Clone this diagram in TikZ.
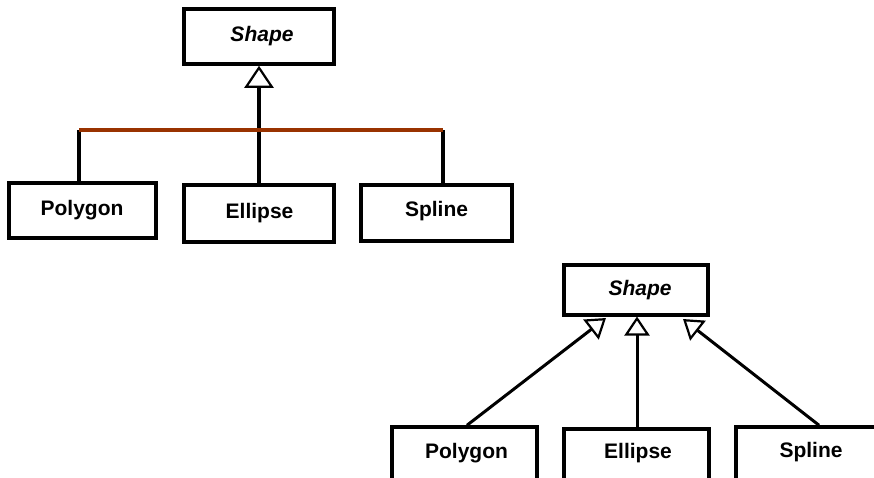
\documentclass[tikz,border=0pt]{standalone}
\usepackage{fontspec}
\setmainfont{Liberation Sans}
\usetikzlibrary{arrows.meta}
\definecolor{barbrown}{HTML}{993300}
\tikzset{
  cls/.style={draw=black, line width=3.5pt, inner sep=0pt, fill=white},
  lbl/.style={font=\fontsize{21}{25}\selectfont\bfseries, inner sep=0pt, anchor=base},
  ilbl/.style={font=\fontsize{21}{25}\selectfont\bfseries\itshape, inner sep=0pt, anchor=base},
  gen/.style={-{Triangle[open, length=22pt, width=29pt, line width=2.2pt]}},
  genb/.style={-{Triangle[open, length=19pt, width=25pt, line width=2.2pt]}, line width=3pt},
}
\begin{document}
\begin{tikzpicture}[x=1pt, y=-1pt]
\useasboundingbox (0,0) rectangle (874,477);
\clip (0,0) rectangle (874,477);
% ---------- top diagram ----------
\node[cls, minimum width=150pt, minimum height=55pt] (S1) at (259,36.5) {};
\node[ilbl] at (262,41) {Shape};
\node[cls, minimum width=147pt, minimum height=55pt] (P1) at (82.5,210.5) {};
\node[lbl] at (82,215) {Polygon};
\node[cls, minimum width=150pt, minimum height=57pt] (E1) at (259,213.5) {};
\node[lbl] at (259.5,218) {Ellipse};
\node[cls, minimum width=151pt, minimum height=56pt] (L1) at (436.5,213) {};
\node[lbl] at (436.5,216.5) {Spline};
\coordinate (barL) at (79,130);
\coordinate (barR) at (443,130);
\draw[line width=3.5pt] (barL) -- (barL |- P1.north);
\draw[line width=3.5pt] (barR) -- (barR |- L1.north);
\draw[line width=4.5pt, gen] (E1.north) -- (S1.south);
\draw[barbrown, line width=3.5pt] (barL) -- (barR);
% ---------- bottom diagram ----------
\node[cls, minimum width=144pt, minimum height=50pt] (S2) at (636,290) {};
\node[ilbl] at (640,295) {Shape};
\node[cls, minimum width=145pt, minimum height=55pt] (P2) at (464.5,454.5) {};
\node[lbl] at (466.5,458) {Polygon};
\node[cls, minimum width=145pt, minimum height=55pt] (E2) at (636.5,456.5) {};
\node[lbl] at (638,458) {Ellipse};
\node[cls, minimum width=160pt, minimum height=55pt] (L2) at (816,454.5) {};
\node[lbl] at (811,457) {Spline};
\coordinate (tL) at (606,318);
\coordinate (tM) at (637,316.5);
\coordinate (tR) at (683,319);
\draw[genb] (P2.north -| 467,0) -- (tL);
\draw[genb] (E2.north -| tM) -- (tM);
\draw[genb] (L2.north -| 819,0) -- (tR);
\end{tikzpicture}
\end{document}
